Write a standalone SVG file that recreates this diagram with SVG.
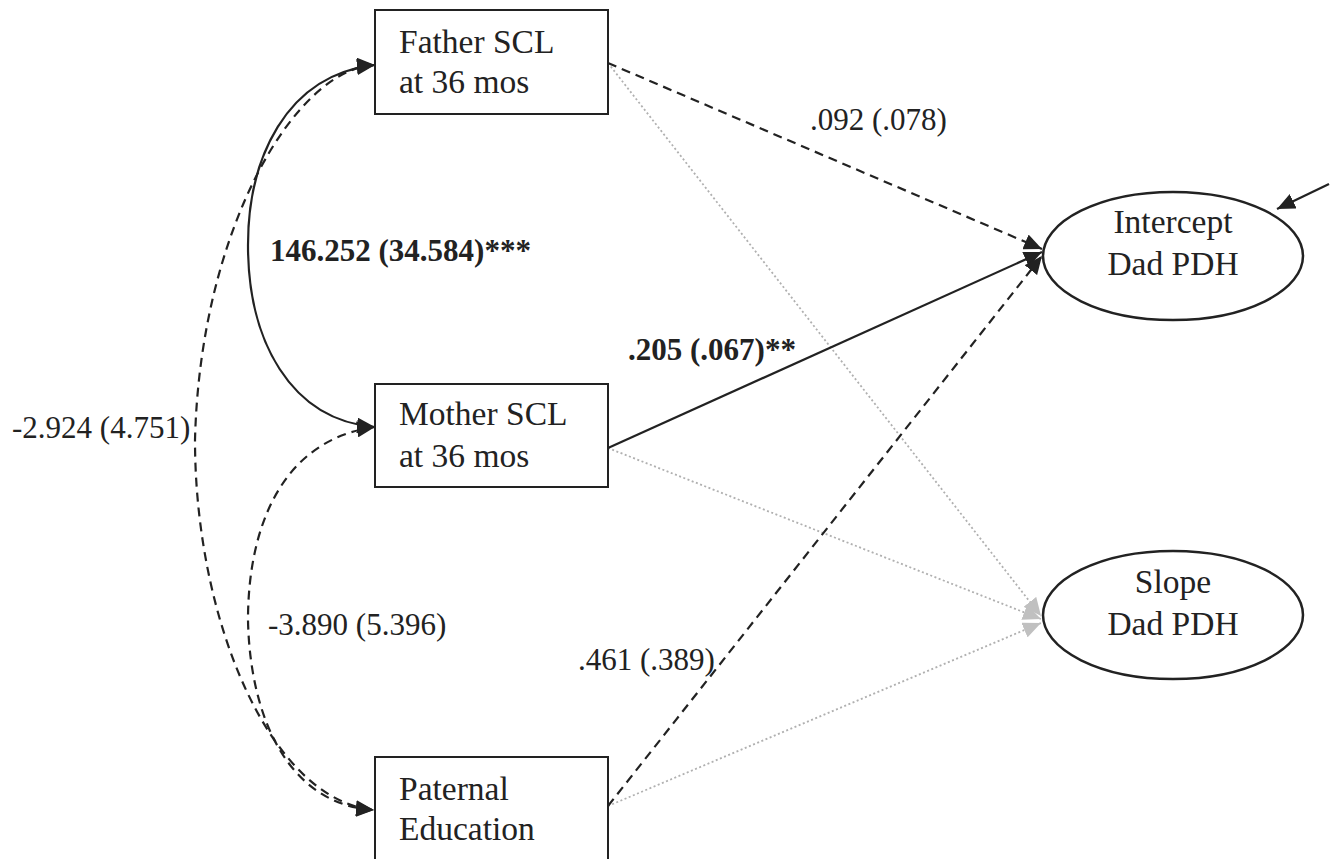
<svg xmlns="http://www.w3.org/2000/svg" width="1337" height="859" viewBox="0 0 1337 859">
<defs>
<style>
.box{fill:#fff;stroke:#222;stroke-width:2}
.ell{fill:#fff;stroke:#222;stroke-width:2.5}
.nt{font-family:'Liberation Serif','Tinos','DejaVu Serif','Times New Roman',serif;font-size:33.5px;fill:#222}
.lb{font-family:'Liberation Serif','Tinos','DejaVu Serif','Times New Roman',serif;font-size:31px;fill:#222}
.bd{font-weight:bold}
.solid{fill:none;stroke:#222;stroke-width:2.2}
.dash{fill:none;stroke:#222;stroke-width:2.2;stroke-dasharray:9,6}
.dot{fill:none;stroke:#b0b0b0;stroke-width:1.8;stroke-dasharray:2,2.5}
</style>
<marker id="ah" viewBox="0 0 18 16" refX="18" refY="8" markerWidth="18" markerHeight="16" markerUnits="userSpaceOnUse" orient="auto"><path d="M0,0 L18,8 L0,16 Z" fill="#222"/></marker>
<marker id="ahs" viewBox="0 0 18 16" refX="18" refY="8" markerWidth="18" markerHeight="16" markerUnits="userSpaceOnUse" orient="auto-start-reverse"><path d="M0,0 L18,8 L0,16 Z" fill="#222"/></marker>
<marker id="ahg" viewBox="0 0 18 16" refX="18" refY="8" markerWidth="18" markerHeight="16" markerUnits="userSpaceOnUse" orient="auto"><path d="M0,0 L18,8 L0,16 Z" fill="#c0c0c0"/></marker>
</defs>
<rect width="1337" height="859" fill="#fff"/>
<g id="connectors">
<path class="dot" d="M608,63 L1041,616" marker-end="url(#ahg)"/>
<path class="dot" d="M608,448 L1041,619" marker-end="url(#ahg)"/>
<path class="dot" d="M608,806 L1041,623" marker-end="url(#ahg)"/>
<path class="dash" d="M608,63 L1042,249" marker-end="url(#ah)"/>
<path class="solid" d="M608,448 L1042,252" marker-end="url(#ah)"/>
<path class="dash" d="M608,806 L1042,256" marker-end="url(#ah)"/>
<path class="dash" d="M375,65 C295,68 200,230 195,440 C195,620 270,800 374,810" marker-start="url(#ahs)" marker-end="url(#ah)"/>
<path class="dash" d="M375,427 C280,440 248,530 248,620 C250,720 290,805 374,810" marker-start="url(#ahs)" marker-end="url(#ah)"/>
<path class="solid" d="M375,65 C285,75 248,160 248,245 C248,340 290,420 375,427" marker-start="url(#ahs)" marker-end="url(#ah)"/>
<path class="solid" d="M1329,184 L1277,209" marker-end="url(#ah)"/>
</g>
<g id="labels">
<text class="lb" x="810" y="130">.092 (.078)</text>
<text class="lb bd" x="270" y="261">146.252 (34.584)***</text>
<text class="lb bd" x="628" y="360">.205 (.067)**</text>
<text class="lb" x="12" y="438">-2.924 (4.751)</text>
<text class="lb" x="268" y="635">-3.890 (5.396)</text>
<text class="lb" x="578" y="670">.461 (.389)</text>
</g>
<g id="father">
<rect class="box" x="375" y="10" width="233" height="104"/>
<text class="nt" x="399" y="53">Father SCL</text>
<text class="nt" x="399" y="93">at 36 mos</text>
</g>
<g id="mother">
<rect class="box" x="375" y="384" width="233" height="103"/>
<text class="nt" x="399" y="425">Mother SCL</text>
<text class="nt" x="399" y="467">at 36 mos</text>
</g>
<g id="paternal">
<rect class="box" x="375" y="757" width="233" height="120"/>
<text class="nt" x="399" y="800">Paternal</text>
<text class="nt" x="399" y="840">Education</text>
</g>
<g id="intercept">
<ellipse class="ell" cx="1173" cy="256" rx="130" ry="64"/>
<text class="nt" x="1173" y="233" text-anchor="middle">Intercept</text>
<text class="nt" x="1173" y="275" text-anchor="middle">Dad PDH</text>
</g>
<g id="slope">
<ellipse class="ell" cx="1173" cy="615" rx="130" ry="64"/>
<text class="nt" x="1173" y="593" text-anchor="middle">Slope</text>
<text class="nt" x="1173" y="635" text-anchor="middle">Dad PDH</text>
</g>
</svg>
